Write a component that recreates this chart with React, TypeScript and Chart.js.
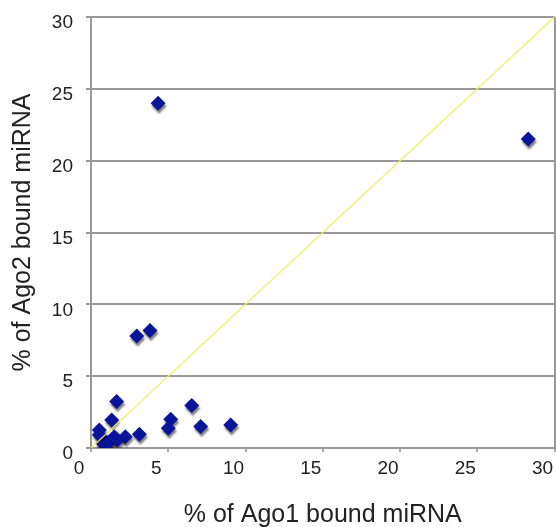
import React, { useEffect, useRef } from "react";
import { Chart, registerables } from "chart.js";

Chart.register(...registerables);

const ago1Percent: number[] = [4.34, 28.3, 3.82, 2.96, 1.66, 1.34, 0.54, 6.52, 5.16, 5.0, 7.1, 9.04, 3.13, 2.22, 1.51, 0.86, 0.76, 1.19, 1.72, 0.54, 0.97];
const ago2Percent: number[] = [24.0, 21.5, 8.17, 7.8, 3.23, 1.95, 1.25, 2.95, 2.0, 1.37, 1.49, 1.6, 0.95, 0.79, 0.79, 0.56, 0.33, 0.44, 0.56, 0.9, 0.2];
const diagonalX: number[] = [0, 30];
const diagonalY: number[] = [0, 30];
const axisTicks: number[] = [0, 5, 10, 15, 20, 25, 30];
const xTitle = "% of Ago1 bound miRNA";
const yTitle = "% of Ago2 bound miRNA";

const FONT = "'Liberation Sans', Arial, Helvetica, sans-serif";

const shadowPlugin = {
  id: "markerShadow",
  beforeDatasetDraw(chart: any, args: any) {
    if (args.index !== 1) return;
    const ctx = chart.ctx;
    ctx.save();
    ctx.shadowColor = "rgba(0,0,0,0.5)";
    ctx.shadowOffsetX = 1;
    ctx.shadowOffsetY = 3;
    ctx.shadowBlur = 2;
  },
  afterDatasetDraw(chart: any, args: any) {
    if (args.index !== 1) return;
    chart.ctx.restore();
  },
};

export default function App() {
  const ref = useRef<HTMLCanvasElement | null>(null);
  useEffect(() => {
    if (!ref.current) return;
    const chart = new Chart(ref.current, {
      type: "scatter",
      data: {
        datasets: [
          {
            type: "line",
            data: diagonalX.map((x, i) => ({ x, y: diagonalY[i] })),
            borderColor: "#f2ee5a",
            borderWidth: 1.2,
            pointRadius: 0,
            fill: false,
          } as any,
          {
            data: ago1Percent.map((x, i) => ({ x, y: ago2Percent[i] })),
            pointStyle: "rectRot",
            pointRadius: 7.5,
            backgroundColor: "#0a1499",
            borderColor: "#0a1499",
            borderWidth: 0,
          },
        ],
      },
      options: {
        animation: false,
        responsive: false,
        maintainAspectRatio: false,
        layout: { padding: { top: 17, right: 0, left: 0, bottom: 0 } },
        plugins: { legend: { display: false }, tooltip: { enabled: false } },
        scales: {
          x: {
            type: "linear",
            min: 0,
            max: 30,
            afterBuildTicks: (scale: any) => {
              scale.ticks = axisTicks.map((v) => ({ value: v }));
            },
            afterFit: (scale: any) => {
              scale.height = 79;
              scale.paddingLeft = 0;
              scale.paddingRight = 0;
            },
            ticks: {
              color: "#222",
              font: { family: FONT, size: 19 },
              padding: 5,
              labelOffset: -12,
              maxRotation: 0,
            },
            grid: {
              color: (c: any) => (c.tick && c.tick.value === 30 ? "#999" : "rgba(0,0,0,0)"),
              tickColor: "#aaa",
              lineWidth: 2,
              tickLength: 4,
            },
            border: { display: true, color: "#999", width: 2 },
            title: {
              display: true,
              text: xTitle,
              color: "#222",
              font: { family: FONT, size: 25 },
              padding: { top: 0, bottom: -3 },
            },
          },
          y: {
            type: "linear",
            min: 0,
            max: 30,
            afterBuildTicks: (scale: any) => {
              scale.ticks = axisTicks.map((v) => ({ value: v }));
            },
            afterFit: (scale: any) => {
              scale.width = 91;
              scale.paddingTop = 0;
              scale.paddingBottom = 0;
            },
            ticks: {
              color: "#222",
              font: { family: FONT, size: 19 },
              padding: 13,
              labelOffset: 6,
            },
            grid: {
              color: "#999",
              tickColor: "#999",
              lineWidth: 2,
              tickLength: 5,
            },
            border: { display: true, color: "#999", width: 2 },
            title: {
              display: true,
              text: yTitle,
              color: "#222",
              font: { family: FONT, size: 25 },
              padding: { top: 8, bottom: 0 },
            },
          },
        },
      },
      plugins: [shadowPlugin],
    });
    return () => chart.destroy();
  }, []);
  return (
    <div style={{ position: "fixed", left: 0, top: 0, width: 556, height: 527, background: "#fff", overflow: "hidden" }}>
      <canvas ref={ref} width={562} height={527} style={{ width: 562, height: 527, display: "block" }} />
    </div>
  );
}
